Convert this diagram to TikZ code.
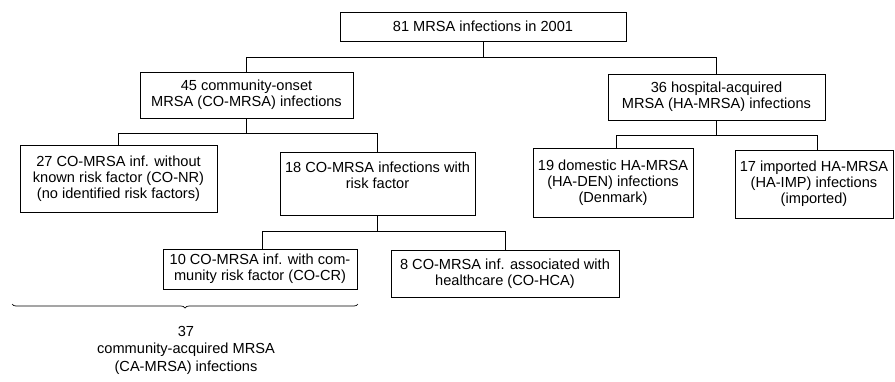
\documentclass[tikz,border=0pt]{standalone}
\usepackage{fontspec}
\setmainfont{Liberation Sans}
\usetikzlibrary{decorations.pathreplacing}

\begin{document}
\begin{tikzpicture}[x=1pt,y=-1pt,line width=.7pt,
  box/.style={draw,align=center,inner sep=0pt,font=\fontsize{14.6}{15.8}\selectfont},
  link/.style={line width=.7pt}]
\path[use as bounding box] (0,0) rectangle (895,381);
\node[box,minimum width=286pt,minimum height=29pt] (root) at (483,26.5) {81 MRSA infections in 2001};
\node[box,minimum width=213pt,minimum height=46pt] (co) at (246.5,95) {45 community-onset\\MRSA (CO-MRSA) infections};
\node[box,minimum width=217pt,minimum height=46pt] (ha) at (716.5,97) {36 hospital-acquired\\MRSA (HA-MRSA) infections};
\node[box,minimum width=197pt,minimum height=67pt] (nr) at (118.5,178.5) {27 CO-MRSA inf. without\\known risk factor (CO-NR)\\(no identified risk factors)};
\node[box,minimum width=195pt,minimum height=63pt] (rf) at (377.5,183.5) {18 CO-MRSA infections with\\risk factor\\\mbox{}};
\node[box,minimum width=194pt,minimum height=40pt] (cr) at (260,269) {10 CO-MRSA inf. with com-\\munity risk factor (CO-CR)};
\node[box,minimum width=228pt,minimum height=47pt] (hca) at (505,273.5) {8 CO-MRSA inf. associated with\\healthcare (CO-HCA)};
\node[box,minimum width=160pt,minimum height=69pt] (den) at (613,182.5) {19 domestic HA-MRSA\\(HA-DEN) infections\\(Denmark)};
\node[box,minimum width=158pt,minimum height=68pt] (imp) at (814,184) {17 imported HA-MRSA\\(HA-IMP) infections\\(imported)};
\draw[link] (root.south) -- ++(0,16) coordinate (j0);
\draw[link] (j0) -| (co.north);
\draw[link] (j0) -| (ha.north);
\draw[link] (co.south) -- ++(0,15) coordinate (j1);
\draw[link] (j1) -| (nr.north);
\draw[link] (j1) -| (rf.north);
\draw[link] (rf.south) -- ++(0,16) coordinate (j2);
\draw[link] (j2) -| ([xshift=2pt]cr.north);
\draw[link] (j2) -| (hca.north);
\draw[link] (ha.south) -- ++(0,15) coordinate (j3);
\draw[link] (j3) -| ([xshift=3pt]den.north);
\draw[link] (j3) -| ([xshift=3pt]imp.north);
\coordinate (bl) at (12,304);
\coordinate (br) at (358,304);
\draw[link,decorate,decoration={brace,amplitude=4pt,mirror}] (bl) -- (br);
\node[align=center,inner sep=0pt,font=\fontsize{14.6}{17.5}\selectfont] (ca) at (186,350) {37\\community-acquired MRSA\\(CA-MRSA) infections};
\end{tikzpicture}
\end{document}
